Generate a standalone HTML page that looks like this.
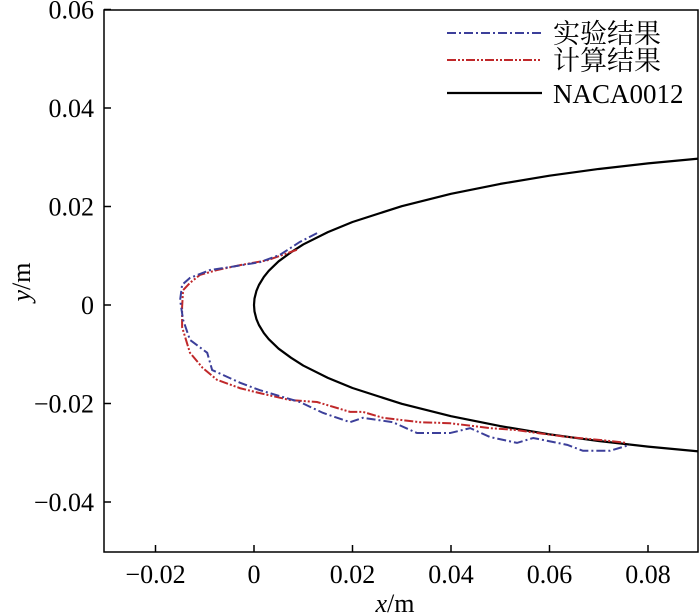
<!DOCTYPE html>
<html><head><meta charset="utf-8"><style>
body{margin:0;background:#fff;}
svg{display:block;font-family:"Liberation Serif","Noto Serif CJK SC",serif;}
</style></head><body>
<svg id="chart" width="700" height="614" viewBox="0 0 700 614">
<defs><clipPath id="clip"><rect x="104" y="10" width="594" height="542"/></clipPath></defs>
<g id="marks" clip-path="url(#clip)"></g>
<rect x="104" y="10" width="594" height="542" fill="none" stroke="#000" stroke-width="1.5"/>
<g id="axes"></g>
<text x="395" y="612" font-size="26" text-anchor="middle"><tspan font-style="italic">x</tspan>/m</text>
<text transform="translate(30,282) rotate(-90)" font-size="26" text-anchor="middle"><tspan font-style="italic">y</tspan>/m</text>
<g>
<line x1="447" y1="33" x2="542" y2="33" stroke="#3c3f9a" stroke-width="2" stroke-dasharray="9,3,2,3"/>
<text x="553" y="43" font-size="27" font-family="Liberation Serif,'Noto Serif CJK SC',serif">实验结果</text>
<line x1="447" y1="60" x2="542" y2="60" stroke="#c0282a" stroke-width="2" stroke-dasharray="9,2,2,2,2,2"/>
<text x="553" y="70" font-size="27" font-family="Liberation Serif,'Noto Serif CJK SC',serif">计算结果</text>
<line x1="447" y1="93" x2="542" y2="93" stroke="#000" stroke-width="2.2"/>
<text x="553" y="103" font-size="27">NACA0012</text>
</g>
</svg>
<script>
const xTicks=[-0.02,0,0.02,0.04,0.06,0.08];
const xTickLabels=["\u22120.02","0","0.02","0.04","0.06","0.08"];
const yTicks=[-0.04,-0.02,0,0.02,0.04,0.06];
const yTickLabels=["\u22120.04","\u22120.02","0","0.02","0.04","0.06"];
const nacaX=[0,0.0001,0.0005,0.001,0.002,0.003,0.005,0.0075,0.01,0.015,0.02,0.03,0.04,0.05,0.06,0.07,0.08,0.09,0.095];
const nacaY=[0,0.00131,0.00289,0.00406,0.0057,0.00694,0.00887,0.0107,0.0123,0.0148,0.01685,0.02007,0.02257,0.02459,0.02625,0.02762,0.02876,0.02969,0.0301];
const expX=[0.0128,0.0093,0.0053,0.0012,-0.0049,-0.0089,-0.0130,-0.0146,-0.0150,-0.0144,-0.0130,-0.0095,-0.0085,-0.0028,0.0012,0.0093,0.0140,0.0195,0.0221,0.0282,0.0331,0.0398,0.0439,0.0479,0.0534,0.0567,0.0636,0.0668,0.0723,0.0763];
const expY=[0.0146,0.0128,0.0102,0.0087,0.0077,0.0071,0.0055,0.0041,0.0010,-0.0030,-0.0071,-0.0097,-0.0132,-0.0158,-0.0173,-0.0197,-0.0219,-0.0238,-0.0229,-0.0238,-0.0260,-0.0260,-0.0250,-0.0268,-0.0280,-0.0270,-0.0284,-0.0296,-0.0296,-0.0284];
const calX=[0.0087,0.0028,-0.0028,-0.0075,-0.0110,-0.0130,-0.0144,-0.0146,-0.0146,-0.0130,-0.0104,-0.0075,-0.0028,0.0012,0.0073,0.0128,0.0195,0.0221,0.0262,0.0337,0.0398,0.0479,0.0534,0.0575,0.0636,0.0703,0.0757];
const calY=[0.0112,0.0091,0.0081,0.0071,0.0061,0.0045,0.0030,-0.0004,-0.0045,-0.0097,-0.0128,-0.0152,-0.0169,-0.0179,-0.0193,-0.0197,-0.0217,-0.0217,-0.0229,-0.0238,-0.0240,-0.0250,-0.0254,-0.0260,-0.0268,-0.0274,-0.0280];

const NS="http://www.w3.org/2000/svg";
const sx=v=>254+v*4925;
const sy=v=>305-v*4925;
const axes=document.getElementById('axes');
const marks=document.getElementById('marks');
function mk(tag,attrs,parent){const e=document.createElementNS(NS,tag);for(const k in attrs)e.setAttribute(k,attrs[k]);parent.appendChild(e);return e;}
xTicks.forEach((v,i)=>{
  const l=mk('line',{x1:sx(v),x2:sx(v),y1:552,y2:545,stroke:'#000','stroke-width':1.5},axes);
  
  
  const t=mk('text',{x:sx(v),y:583,'font-size':26,'text-anchor':'middle'},axes);
  t.textContent=xTickLabels[i];
  
  
});
yTicks.forEach((v,i)=>{
  const l=mk('line',{x1:104,x2:111,y1:sy(v),y2:sy(v),stroke:'#000','stroke-width':1.5},axes);
  
  
  const t=mk('text',{x:94,y:sy(v)+9,'font-size':26,'text-anchor':'end'},axes);
  t.textContent=yTickLabels[i];
  
  
});
let pts=[];
for(let i=nacaX.length-1;i>=0;i--)pts.push(sx(nacaX[i])+','+sy(nacaY[i]));
for(let i=1;i<nacaX.length;i++)pts.push(sx(nacaX[i])+','+sy(-nacaY[i]));
const naca=mk('polyline',{points:pts.join(' '),fill:'none',stroke:'#000','stroke-width':2.2,'stroke-linejoin':'round'},marks);


const cal=mk('polyline',{points:calX.map((x,i)=>sx(x)+','+sy(calY[i])).join(' '),fill:'none',stroke:'#c0282a','stroke-width':2,'stroke-dasharray':'9,2,2,2,2,2'},marks);


const exp=mk('polyline',{points:expX.map((x,i)=>sx(x)+','+sy(expY[i])).join(' '),fill:'none',stroke:'#3c3f9a','stroke-width':2,'stroke-dasharray':'9,3,2,3'},marks);


</script>
</body></html>
